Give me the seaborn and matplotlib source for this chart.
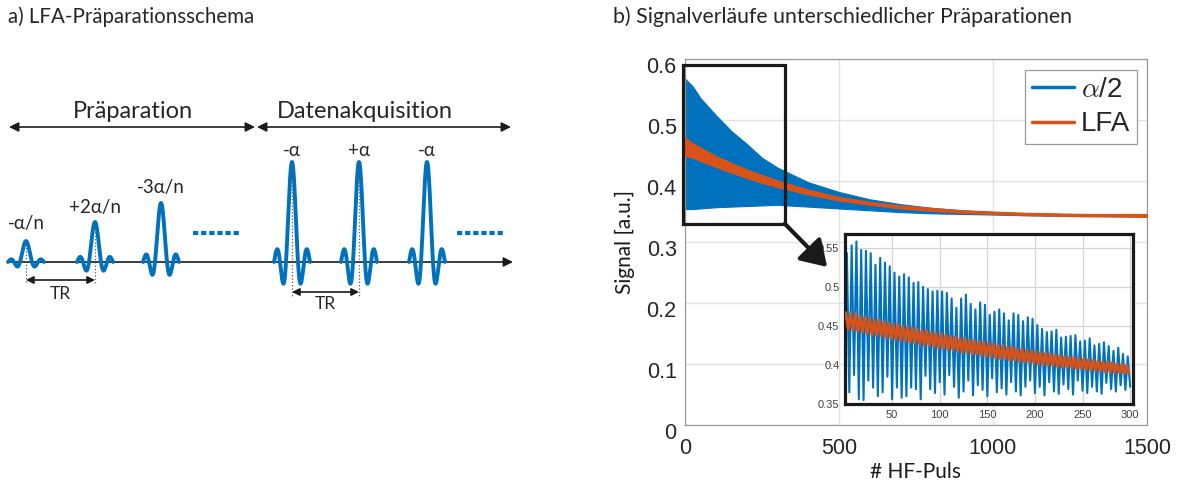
import numpy as np
import matplotlib
matplotlib.use("Agg")
import matplotlib.pyplot as plt
import matplotlib.transforms as mtransforms
import seaborn as sns
import pandas as pd
from matplotlib.patches import Rectangle, ConnectionPatch
from matplotlib.lines import Line2D

# ---------------- data ----------------
main_pulse = [0, 25, 50, 100, 150, 200, 250, 300, 400, 500, 600, 700, 800,
              900, 1000, 1100, 1200, 1300, 1400, 1500]
alpha2_upper = [0.568, 0.555, 0.536, 0.508, 0.482, 0.461, 0.438, 0.422, 0.398, 0.382,
                0.370, 0.362, 0.356, 0.352, 0.349, 0.347, 0.346, 0.345, 0.344, 0.343]
alpha2_lower = [0.354, 0.354, 0.355, 0.357, 0.358, 0.359, 0.360, 0.361, 0.358, 0.355,
                0.352, 0.349, 0.347, 0.346, 0.345, 0.344, 0.343, 0.343, 0.342, 0.342]
lfa_upper = [0.471, 0.462, 0.455, 0.441, 0.430, 0.419, 0.410, 0.401, 0.386, 0.374,
             0.366, 0.360, 0.356, 0.352, 0.350, 0.348, 0.347, 0.346, 0.346, 0.346]
lfa_lower = [0.441, 0.438, 0.433, 0.423, 0.414, 0.405, 0.397, 0.390, 0.378, 0.368,
             0.361, 0.355, 0.351, 0.348, 0.346, 0.344, 0.343, 0.342, 0.342, 0.341]

# inset (first 300 pulses): spike maxima / minima
inset_alpha2_peaks = [0.543, 0.553, 0.558, 0.547, 0.546, 0.543, 0.528, 0.537, 0.531, 0.526,
                      0.518, 0.513, 0.516, 0.512, 0.505, 0.506, 0.500, 0.497, 0.494, 0.495,
                      0.494, 0.492, 0.485, 0.473, 0.485, 0.490, 0.478, 0.471, 0.480, 0.477,
                      0.464, 0.468, 0.471, 0.466, 0.457, 0.466, 0.464, 0.456, 0.461, 0.459,
                      0.451, 0.446, 0.442, 0.443, 0.445, 0.435, 0.436, 0.437, 0.438, 0.430,
                      0.431, 0.434, 0.425, 0.427, 0.429, 0.424, 0.418, 0.422, 0.414, 0.411]
inset_alpha2_troughs = [0.365, 0.387, 0.356, 0.355, 0.380, 0.371, 0.360, 0.365, 0.385, 0.356,
                        0.371, 0.358, 0.360, 0.371, 0.369, 0.356, 0.386, 0.369, 0.364, 0.378,
                        0.362, 0.387, 0.372, 0.358, 0.366, 0.380, 0.361, 0.374, 0.368, 0.360,
                        0.383, 0.365, 0.370, 0.362, 0.378, 0.366, 0.361, 0.372, 0.380, 0.364,
                        0.372, 0.361, 0.378, 0.366, 0.363, 0.375, 0.369, 0.362, 0.380, 0.367,
                        0.364, 0.372, 0.366, 0.363, 0.377, 0.369, 0.366, 0.374, 0.368, 0.372]
inset_lfa_peaks = [0.467, 0.465, 0.466, 0.462, 0.461, 0.460, 0.457, 0.458, 0.455, 0.454,
                   0.452, 0.452, 0.449, 0.449, 0.447, 0.446, 0.444, 0.444, 0.442, 0.440,
                   0.440, 0.438, 0.437, 0.436, 0.434, 0.434, 0.432, 0.431, 0.430, 0.429,
                   0.428, 0.427, 0.425, 0.425, 0.423, 0.423, 0.421, 0.420, 0.419, 0.418,
                   0.417, 0.416, 0.415, 0.414, 0.413, 0.412, 0.411, 0.410, 0.410, 0.408,
                   0.408, 0.407, 0.406, 0.405, 0.404, 0.404, 0.403, 0.402, 0.401, 0.400]
inset_lfa_troughs = [0.446, 0.444, 0.443, 0.442, 0.440, 0.439, 0.437, 0.437, 0.435, 0.434,
                     0.432, 0.432, 0.430, 0.429, 0.428, 0.427, 0.425, 0.425, 0.423, 0.422,
                     0.421, 0.420, 0.419, 0.418, 0.416, 0.416, 0.414, 0.414, 0.412, 0.411,
                     0.411, 0.409, 0.408, 0.408, 0.406, 0.406, 0.404, 0.404, 0.403, 0.402,
                     0.401, 0.400, 0.400, 0.399, 0.398, 0.397, 0.397, 0.396, 0.395, 0.395,
                     0.394, 0.393, 0.393, 0.392, 0.391, 0.391, 0.390, 0.390, 0.389, 0.389]

main_xticks = [0, 500, 1000, 1500]
main_yticks = [0, 0.1, 0.2, 0.3, 0.4, 0.5, 0.6]
main_ytick_labels = ["0", "0.1", "0.2", "0.3", "0.4", "0.5", "0.6"]
inset_xticks = [50, 100, 150, 200, 250, 300]
inset_yticks = [0.35, 0.4, 0.45, 0.5, 0.55]
inset_ytick_labels = ["0.35", "0.4", "0.45", "0.5", "0.55"]
series_labels = [r"$\alpha$/2", "LFA"]

# schematic content
pulse_labels = ["-α/n", "+2α/n", "-3α/n", "-α", "+α", "-α"]
pulse_rel_amp = [0.21, 0.40, 0.59, 1.0, 1.0, 1.0]

# ---------------- style ----------------
sns.set_theme(style="white")
plt.rcParams['font.family'] = ['Liberation Sans', 'DejaVu Sans']
plt.rcParams['mathtext.fontset'] = 'cm'
CAL = ['Lato', 'Open Sans', 'DejaVu Sans']
BLUE = '#0072BD'
ORANGE = '#D95319'
TXT = '#262626'

W, H = 1179, 488
fig = plt.figure(figsize=(W / 100, H / 100), dpi=100)

# ---------------- main axes ----------------
ax = fig.add_axes([685 / W, 1 - 425 / H, 462 / W, 366 / H])
ax.fill_between(main_pulse, alpha2_lower, alpha2_upper, color=BLUE, lw=0.8, edgecolor=BLUE, zorder=2)
ax.fill_between(main_pulse, lfa_lower, lfa_upper, color=ORANGE, lw=0.8, edgecolor=ORANGE, zorder=3)
ax.set_xlim(0, 1500)
ax.set_ylim(0, 0.6)
ax.set_xticks(main_xticks)
ax.set_xticklabels([str(v) for v in main_xticks])
ax.set_yticks(main_yticks)
ax.set_yticklabels(main_ytick_labels)
ax.grid(True, color='#e2e2e2', lw=1.0, zorder=0)
ax.set_axisbelow(True)
for s in ax.spines.values():
    s.set_color('#9a9a9a')
    s.set_linewidth(0.9)
ax.tick_params(axis='both', direction='in', length=4, color='#9a9a9a',
               labelsize=15.5, labelcolor=TXT)
ax.tick_params(axis='y', pad=6)
ax.tick_params(axis='x', pad=9)
off = mtransforms.ScaledTranslation(0, -6 / 100, fig.dpi_scale_trans)
for lab in ax.get_yticklabels():
    lab.set_transform(lab.get_transform() + off)

ax.set_xlabel("# HF-Puls", fontsize=15, family=CAL, color='k', va='center')
ax.xaxis.set_label_coords(0.5, -(472 - 425) / 366)
ax.set_ylabel("Signal [a.u.]", fontsize=15, family=CAL, color='k', va='center')
ax.yaxis.set_label_coords((625 - 685) / 462, 0.5)

handles = [Line2D([], [], color=BLUE, lw=2.5), Line2D([], [], color=ORANGE, lw=2.5)]
leg = ax.legend(handles, series_labels, loc='upper right',
                bbox_to_anchor=(1 - 10 / 462, 1 - 11 / 366), borderaxespad=0,
                fontsize=20, handlelength=1.5, handletextpad=0.25,
                labelspacing=0.3, borderpad=0.25, fancybox=False, framealpha=1)
leg.get_frame().set_edgecolor('#9a9a9a')
leg.get_frame().set_linewidth(0.9)

ax.add_patch(Rectangle((-6, 0.33), 330, 0.26, fill=False, ec='k', lw=2.3,
                       clip_on=False, zorder=6))

# ---------------- inset ----------------
axin = fig.add_axes([845 / W, 1 - 404 / H, 288 / W, 170 / H])
axin.set_facecolor('white')
px = np.arange(len(inset_alpha2_peaks)) * 5 + 2.5
bx = np.empty(2 * len(px)); by = np.empty(2 * len(px))
bx[0::2] = px; bx[1::2] = px + 2.5
by[0::2] = inset_alpha2_peaks; by[1::2] = inset_alpha2_troughs
ox = np.empty(2 * len(px)); oy = np.empty(2 * len(px))
ox[0::2] = px - 1.25; ox[1::2] = px + 1.25
oy[0::2] = inset_lfa_peaks; oy[1::2] = inset_lfa_troughs
df_b = pd.DataFrame({'pulse': bx, 'signal': by})
df_o = pd.DataFrame({'pulse': ox, 'signal': oy})
sns.lineplot(data=df_b, x='pulse', y='signal', ax=axin, color=BLUE, lw=1.5,
             sort=False, estimator=None, zorder=2)
sns.lineplot(data=df_o, x='pulse', y='signal', ax=axin, color=ORANGE, lw=2.0,
             sort=False, estimator=None, zorder=3)
axin.set_xlim(0.5, 303)
axin.set_ylim(0.35, 0.5675)
axin.set_xticks(inset_xticks)
axin.set_xticklabels([str(v) for v in inset_xticks])
axin.set_yticks(inset_yticks)
axin.set_yticklabels(inset_ytick_labels)
axin.set_xlabel(""); axin.set_ylabel("")
axin.grid(True, color='#d4d4d4', lw=0.9, zorder=0)
axin.set_axisbelow(True)
for s in axin.spines.values():
    s.set_color('k')
    s.set_linewidth(2.3)
axin.tick_params(axis='both', direction='in', length=2, labelsize=8,
                 labelcolor='#404040', pad=4)

con = ConnectionPatch(xyA=(324, 0.33), coordsA=ax.transData,
                      xyB=(-0.062, 0.806), coordsB=axin.transAxes,
                      arrowstyle='-|>,head_length=0.55,head_width=0.35',
                      mutation_scale=28, lw=3, color='k', shrinkA=0, shrinkB=0, zorder=10)
fig.add_artist(con)

# ---------------- schematic + titles (pixel coordinates) ----------------
sx = fig.add_axes([0, 0, 1, 1], zorder=-1)
sx.set_xlim(0, W); sx.set_ylim(H, 0); sx.axis('off')

fig.text(8 / W, 1 - 17 / H, "a) LFA-Präparationsschema", family=CAL, fontsize=14.8,
         va='center', ha='left')
fig.text(613 / W, 1 - 17 / H, "b) Signalverläufe unterschiedlicher Präparationen",
         family=CAL, fontsize=15.3, va='center', ha='left')

base_y = 262
centers = [26, 95, 161, 292, 359, 427]
label_y = [224, 208, 188, 151, 151, 151]
t = np.linspace(-3, 3, 300)
for c, a, lab, ly in zip(centers, pulse_rel_amp, pulse_labels, label_y):
    sx.plot(c + 6 * t, base_y - 100 * a * np.sinc(t), color=BLUE, lw=2.8,
            solid_capstyle='round', zorder=3)
    sx.text(c, ly, lab, family=CAL, fontsize=13.5, ha='center', va='center')

# baseline
sx.annotate('', xy=(513, base_y), xytext=(8, base_y),
            arrowprops=dict(arrowstyle='-|>', lw=1.2, color='k', mutation_scale=14,
                            shrinkA=0, shrinkB=0), zorder=2)
# phase arrows
for x0, x1, txt, tc in [(9, 255, "Präparation", 133), (257, 511, "Datenakquisition", 365)]:
    sx.annotate('', xy=(x1, 127), xytext=(x0, 127),
                arrowprops=dict(arrowstyle='<|-|>', lw=1.2, color='k', mutation_scale=14,
                                shrinkA=0, shrinkB=0))
    sx.text(tc, 112, txt, family=CAL, fontsize=17, ha='center', va='center')

# TR markers
for xa, xb, ytop_a, ytop_b, yarr, ybot, ytxt in [(26, 95, 241, 222, 280, 284, 294),
                                               (292, 359, 162, 162, 292, 296, 304)]:
    sx.plot([xa, xa], [ytop_a, ybot], ls=':', color='0.35', lw=0.9, zorder=4)
    sx.plot([xb, xb], [ytop_b, ybot], ls=':', color='0.35', lw=0.9, zorder=4)
    sx.annotate('', xy=(xb, yarr), xytext=(xa, yarr),
                arrowprops=dict(arrowstyle='<|-|>', lw=1.2, color='k', mutation_scale=11,
                                shrinkA=0, shrinkB=0))
    sx.text((xa + xb) / 2, ytxt, "TR", family=CAL, fontsize=12.5, ha='center', va='center')

# continuation dots
for x0, x1 in [(193, 239), (457, 505)]:
    sx.plot([x0, x1], [233, 233], color=BLUE, lw=3, ls=(0, (1.25, 0.7)),
            solid_capstyle='butt', dash_capstyle='butt')

fig.savefig("out.png", dpi=100)
